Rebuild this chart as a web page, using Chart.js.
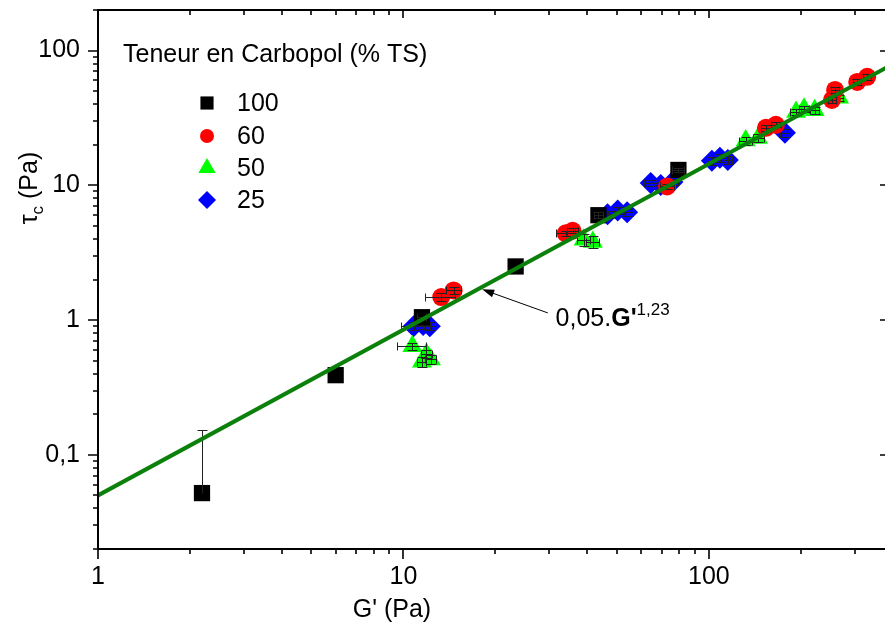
<!DOCTYPE html>
<html><head><meta charset="utf-8">
<script src="https://cdn.jsdelivr.net/npm/chart.js@4.4.1/dist/chart.umd.min.js"></script>
<style>html,body{margin:0;padding:0;background:#fff;overflow:hidden;width:885px;height:628px}
#wrap{position:relative;width:888px;height:628px}</style></head>
<body><div id="wrap"><canvas id="c" width="888" height="628"></canvas></div>
<script>
// ---- axis ticks ----
const xTickValues = [1, 10, 100];
const xTickLabels = ['1', '10', '100'];
const yTickValues = [0.1, 1, 10, 100];
const yTickLabels = ['0,1', '1', '10', '100'];
const xRange = [1, 386];
const yRange = [0.02, 200];

// ---- legend ----
const legendTitle = 'Teneur en Carbopol (% TS)';
const seriesNames = ['100', '60', '50', '25'];

// ---- series 100 % (black squares) ----
const g100 = [2.19, 6.0, 11.5, 23.3, 43.5, 79.5];
const t100 = [0.052, 0.39, 1.05, 2.5, 6.0, 13.0];
const gErr100 = [0, 0, 0.4, 0, 1.5, 3.5];
const tErr100 = [0.1, 0, 0, 0, 0.3, 0.5];

// ---- series 60 % (red circles) ----
const g60 = [13.3, 14.6, 34.0, 35.8, 73.0, 153.8, 165.8, 253, 259, 306, 330];
const t60 = [1.48, 1.66, 4.4, 4.6, 9.8, 26.7, 28.1, 43.0, 51.0, 58.5, 63.8];
const gErr60 = [1.5, 0.8, 2.5, 1.5, 4, 6, 6, 8, 8, 10, 10];
const tErr60 = [0.1, 0.1, 0.2, 0.2, 0.4, 1.2, 1.2, 2.5, 2.5, 3, 3];

// ---- series 50 % (green triangles) ----
const g50 = [10.7, 11.5, 11.9, 12.3, 38.9, 41.7, 132, 145, 193, 205, 222, 267];
const t50 = [0.64, 0.49, 0.56, 0.51, 3.95, 3.8, 21.5, 22.4, 35, 37, 36, 44.6];
const gErr50 = [1.2, 0.4, 0.5, 0.5, 2, 2, 6, 6, 8, 8, 8, 8];
const tErr50 = [0.04, 0.04, 0.04, 0.04, 0.4, 0.4, 1.5, 1.5, 2, 2, 2, 2.5];

// ---- series 25 % (blue diamonds) ----
const g25 = [10.8, 11.6, 12.2, 46.6, 50.3, 54, 64.5, 69.6, 76, 102.3, 108.7, 115.4, 177.5];
const t25 = [0.90, 0.92, 0.90, 6.1, 6.5, 6.3, 10.4, 10.05, 10.6, 15.2, 16.0, 15.4, 24.5];
const gErr25 = [1.0, 0.5, 0.5, 2.5, 2.5, 2.5, 3, 3, 3, 4, 4, 4, 6];
const tErr25 = [0.06, 0.06, 0.06, 0.4, 0.4, 0.4, 0.6, 0.6, 0.6, 1, 1, 1, 1.5];

// ---- fit line 0,05.G'^1,23 (end points) ----
const fitG = [1, 386];
const fitT = [0.05, 75.8];
const fitLabel = ['0,05.', "G'", '1,23'];
const arrowTip = [18.1, 1.69];
const arrowTail = [29.7, 1.13];
const labelPos = [31.5, 1.0];

const FONT = '"Liberation Sans", Arial, sans-serif';
const pts = (g, t) => g.map((v, i) => ({x: v, y: t[i]}));

const styles = [
  {color: '#000000', style: 'rect', r: 11.5, lr: 9.3},
  {color: '#ff0000', style: 'circle', r: 9, lr: 7},
  {color: '#00ff00', style: 'triangle', r: 11.5, lr: 10},
  {color: '#0000ff', style: 'rectRot', r: 11, lr: 9}
];

function mk(i, g, t, ge, te) {
  return {
    type: 'scatter', label: seriesNames[i], data: pts(g, t), gErr: ge, tErr: te,
    pointStyle: styles[i].style, pointRadius: styles[i].r, pointHoverRadius: styles[i].r,
    backgroundColor: styles[i].color, borderColor: styles[i].color, borderWidth: 0, order: 1
  };
}

const errPlugin = {
  id: 'errbars',
  afterDatasetDraw(chart, args) {
    const ds = chart.data.datasets[args.index];
    if (!ds.gErr) return;
    const xs = chart.scales.x, ys = chart.scales.y, ctx = chart.ctx, a = chart.chartArea;
    ctx.save();
    ctx.beginPath(); ctx.rect(a.left, a.top, a.right - a.left, a.bottom - a.top); ctx.clip();
    ctx.strokeStyle = '#222'; ctx.lineWidth = 1;
    const cap = 4;
    ds.data.forEach((p, i) => {
      const px = Math.round(xs.getPixelForValue(p.x)) + 0.5;
      const py = Math.round(ys.getPixelForValue(p.y)) + 0.5;
      const ge = ds.gErr[i], te = ds.tErr[i];
      ctx.beginPath();
      if (ge > 0) {
        const x1 = Math.round(xs.getPixelForValue(p.x - ge)) + 0.5;
        const x2 = Math.round(xs.getPixelForValue(p.x + ge)) + 0.5;
        ctx.moveTo(x1, py); ctx.lineTo(x2, py);
        ctx.moveTo(x1, py - cap); ctx.lineTo(x1, py + cap);
        ctx.moveTo(x2, py - cap); ctx.lineTo(x2, py + cap);
      }
      if (te > 0) {
        const y1 = Math.round(ys.getPixelForValue(p.y + te)) + 0.5;
        ctx.moveTo(px, py); ctx.lineTo(px, y1);
        ctx.moveTo(px - cap - 1, y1); ctx.lineTo(px + cap + 1, y1);
        if (p.y - te > 0) {
          const y2 = Math.round(ys.getPixelForValue(p.y - te)) + 0.5;
          ctx.moveTo(px, py); ctx.lineTo(px, y2);
          ctx.moveTo(px - cap - 1, y2); ctx.lineTo(px + cap + 1, y2);
        }
      }
      ctx.stroke();
    });
    ctx.restore();
  }
};

function minorVals(min, max) {
  const out = [];
  for (let e = Math.floor(Math.log10(min)); e <= Math.ceil(Math.log10(max)); e++) {
    for (let m = 1; m <= 9; m++) {
      const v = m * Math.pow(10, e);
      if (v >= min * 0.999 && v <= max * 1.001) out.push({v, major: m === 1});
    }
  }
  return out;
}

const framePlugin = {
  id: 'frame',
  afterDraw(chart) {
    const ctx = chart.ctx, a = chart.chartArea, xs = chart.scales.x, ys = chart.scales.y;
    ctx.save();
    ctx.strokeStyle = '#000'; ctx.lineWidth = 2;
    ctx.beginPath();
    ctx.moveTo(a.left, a.top); ctx.lineTo(a.right, a.top);
    ctx.moveTo(a.left, a.top - 1); ctx.lineTo(a.left, a.bottom + 1);
    ctx.moveTo(a.left, a.bottom); ctx.lineTo(a.right, a.bottom);
    ctx.moveTo(a.right - 1, a.top); ctx.lineTo(a.right - 1, a.bottom);
    ctx.stroke();
    ctx.lineWidth = 1.6;
    ctx.beginPath();
    minorVals(xRange[0], xRange[1]).forEach(t => {
      const x = Math.round(xs.getPixelForValue(t.v));
      const L = t.major ? 10 : 5;
      ctx.moveTo(x, a.bottom); ctx.lineTo(x, a.bottom + L);
      ctx.moveTo(x, a.top); ctx.lineTo(x, a.top + (t.major ? 8 : 5));
    });
    minorVals(yRange[0], yRange[1]).forEach(t => {
      const y = Math.round(ys.getPixelForValue(t.v));
      const L = t.major ? 10 : 5;
      ctx.moveTo(a.left, y); ctx.lineTo(a.left - L, y);
      if (t.major) { ctx.moveTo(a.right - 1, y); ctx.lineTo(a.right - 8, y); }
    });
    ctx.stroke();

    // axis titles
    ctx.fillStyle = '#000';
    ctx.font = '25px ' + FONT;
    ctx.textAlign = 'center'; ctx.textBaseline = 'alphabetic';
    ctx.fillText("G' (Pa)", 392, 617);

    ctx.save();
    ctx.translate(37, 188); ctx.rotate(-Math.PI / 2);
    ctx.textAlign = 'left';
    const w1 = ctx.measureText('\u03c4').width;
    ctx.font = '17px ' + FONT;
    const w2 = ctx.measureText('c').width;
    ctx.font = '25px ' + FONT;
    const w3 = ctx.measureText(' (Pa)').width;
    let sx = -(w1 + w2 + w3) / 2;
    ctx.fillText('\u03c4', sx, 0); sx += w1;
    ctx.font = '17px ' + FONT; ctx.fillText('c', sx, 6); sx += w2;
    ctx.font = '25px ' + FONT; ctx.fillText(' (Pa)', sx, 0);
    ctx.restore();

    // legend
    ctx.textAlign = 'left'; ctx.textBaseline = 'alphabetic';
    ctx.font = '25px ' + FONT;
    ctx.fillText(legendTitle, 123, 62);
    const rows = [103, 136, 168, 200];
    styles.forEach((s, i) => {
      ctx.fillStyle = s.color; ctx.strokeStyle = s.color;
      Chart.helpers.drawPoint(ctx, {pointStyle: s.style, rotation: 0, radius: s.lr, borderWidth: 0}, 207, rows[i]);
      ctx.fillStyle = '#000';
      ctx.textBaseline = 'middle';
      ctx.fillText(seriesNames[i], 237, rows[i] + 1);
    });

    // annotation arrow + label
    const tx = xs.getPixelForValue(arrowTip[0]), ty = ys.getPixelForValue(arrowTip[1]);
    const bx = xs.getPixelForValue(arrowTail[0]), by = ys.getPixelForValue(arrowTail[1]);
    ctx.strokeStyle = '#000'; ctx.fillStyle = '#000'; ctx.lineWidth = 1;
    const ang = Math.atan2(ty - by, tx - bx);
    ctx.beginPath(); ctx.moveTo(bx, by); ctx.lineTo(tx - 8 * Math.cos(ang), ty - 8 * Math.sin(ang)); ctx.stroke();
    ctx.beginPath();
    ctx.moveTo(tx, ty);
    ctx.lineTo(tx - 12 * Math.cos(ang) + 4 * Math.sin(ang), ty - 12 * Math.sin(ang) - 4 * Math.cos(ang));
    ctx.lineTo(tx - 12 * Math.cos(ang) - 4 * Math.sin(ang), ty - 12 * Math.sin(ang) + 4 * Math.cos(ang));
    ctx.closePath(); ctx.fill();

    const lx = xs.getPixelForValue(labelPos[0]), ly = ys.getPixelForValue(labelPos[1]) + 6;
    ctx.textBaseline = 'alphabetic';
    ctx.font = '25px ' + FONT;
    ctx.fillText(fitLabel[0], lx, ly);
    let cx = lx + ctx.measureText(fitLabel[0]).width;
    ctx.font = 'bold 25px ' + FONT;
    ctx.fillText(fitLabel[1], cx, ly);
    cx += ctx.measureText(fitLabel[1]).width;
    ctx.font = '17px ' + FONT;
    ctx.fillText(fitLabel[2], cx, ly - 11);
    ctx.restore();
  }
};

const zeroPad = s => { s.paddingTop = 0; s.paddingBottom = 0; s.paddingLeft = 0; s.paddingRight = 0; };

new Chart(document.getElementById('c'), {
  data: {
    datasets: [
      {type: 'line', label: 'fit', data: pts(fitG, fitT), borderColor: '#0b800b', borderWidth: 4,
       pointRadius: 0, fill: false, order: 0, tension: 0},
      mk(0, g100, t100, gErr100, tErr100),
      mk(1, g60, t60, gErr60, tErr60),
      mk(2, g50, t50, gErr50, tErr50),
      mk(3, g25, t25, gErr25, tErr25)
    ]
  },
  options: {
    responsive: false, animation: false,
    layout: {autoPadding: false, padding: {left: 0, right: 0, top: 10, bottom: 0}},
    plugins: {legend: {display: false}, tooltip: {enabled: false}},
    scales: {
      x: {
        type: 'logarithmic', position: 'bottom', min: xRange[0], max: xRange[1],
        grid: {display: false, drawTicks: false}, border: {display: false},
        afterBuildTicks: s => { s.ticks = xTickValues.map(v => ({value: v})); },
        afterFit: s => { s.height = 79; zeroPad(s); },
        ticks: {color: '#000', font: {family: FONT, size: 25}, padding: 13, maxRotation: 0, autoSkip: false,
          callback: v => { const i = xTickValues.indexOf(v); return i >= 0 ? xTickLabels[i] : ''; }}
      },
      y: {
        type: 'logarithmic', position: 'left', min: yRange[0], max: yRange[1],
        grid: {display: false, drawTicks: false}, border: {display: false},
        afterBuildTicks: s => { s.ticks = yTickValues.map(v => ({value: v})); },
        afterFit: s => { s.width = 98; zeroPad(s); },
        ticks: {color: '#000', font: {family: FONT, size: 25}, padding: 18, autoSkip: false,
          callback: v => { const i = yTickValues.indexOf(v); return i >= 0 ? yTickLabels[i] : ''; }}
      }
    }
  },
  plugins: [errPlugin, framePlugin]
});
</script></body></html>
